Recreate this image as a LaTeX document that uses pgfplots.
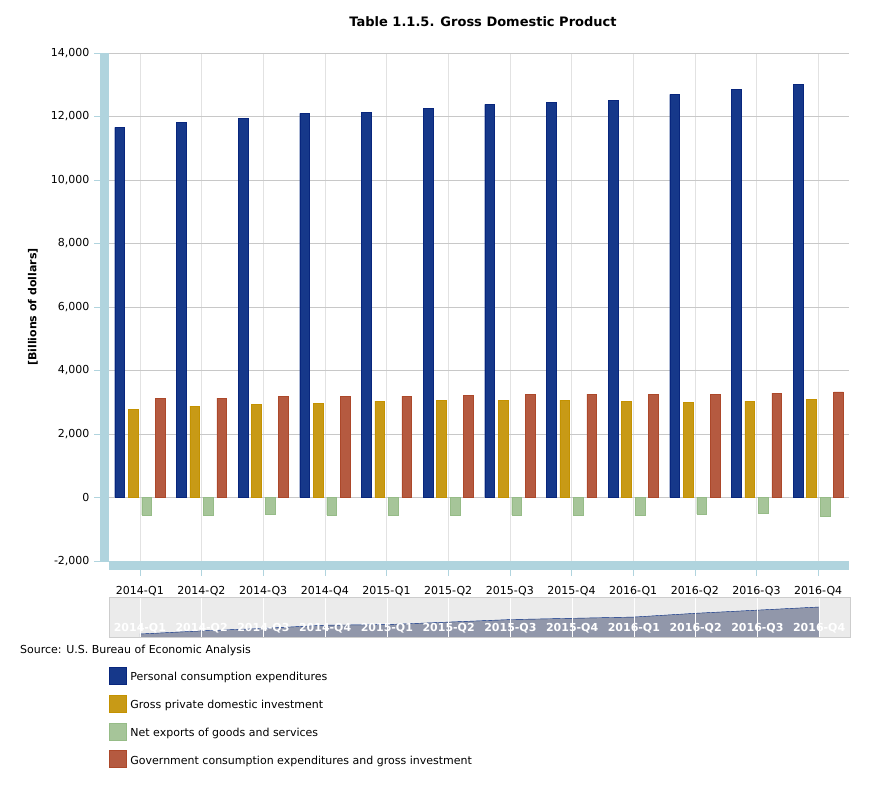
\documentclass[border=0pt]{standalone}
\usepackage{pgfplots}
\pgfplotsset{compat=1.18}
\usepackage{pgfplotstable}
\usepackage{fontspec}
\setmainfont{DejaVu Sans}

\definecolor{pcefill}{RGB}{22,56,138}
\definecolor{pceline}{RGB}{8,38,125}
\definecolor{gpdifill}{RGB}{200,154,22}
\definecolor{gpdiline}{RGB}{196,146,0}
\definecolor{nxfill}{RGB}{166,197,153}
\definecolor{nxline}{RGB}{150,188,135}
\definecolor{govfill}{RGB}{181,90,64}
\definecolor{govline}{RGB}{172,72,42}
\definecolor{bandblue}{RGB}{176,212,222}
\definecolor{gridh}{RGB}{200,200,200}
\definecolor{gridv}{RGB}{226,226,226}
\definecolor{zeroline}{RGB}{120,120,120}
\definecolor{navbg}{RGB}{235,235,235}
\definecolor{navborder}{RGB}{205,205,205}
\definecolor{navarea}{RGB}{145,151,170}
\definecolor{navline}{RGB}{0,40,130}

% billions of dollars
\pgfplotstableread{
x  pce   gpdi  nx    gov
0  11660 2785  -551  3133
1  11817 2880  -551  3133
2  11943 2943  -519  3196
3  12101 2975  -551  3196
4  12132 3038  -551  3196
5  12258 3070  -551  3228
6  12384 3070  -551  3259
7  12447 3070  -551  3259
8  12510 3038  -551  3259
9  12699 3006  -519  3259
10 12857 3038  -487  3291
11 13014 3101  -582  3323
}\gdp

\newcommand{\quarters}{2014-Q1,2014-Q2,2014-Q3,2014-Q4,2015-Q1,2015-Q2,2015-Q3,2015-Q4,2016-Q1,2016-Q2,2016-Q3,2016-Q4}
\newcommand{\sz}{\fontsize{11bp}{13bp}\selectfont}

\begin{document}
\begin{tikzpicture}
\useasboundingbox (0,0) rectangle (870bp,798bp);

\begin{axis}[
    at={(109bp,237bp)}, anchor=south west,
    scale only axis, width=740bp, height=508bp,
    xmin=-0.5, xmax=11.5, ymin=-2000, ymax=14000,
    xtick={0,...,11}, xticklabels/.expanded={\quarters},
    ytick={-2000,0,...,14000},
    scaled y ticks=false,
    ybar=3.8bp, bar width=9.7bp,
    axis line style={draw=none},
    tick pos=left, tick align=outside, major tick length=15bp,
    tick style={draw=bandblue},
    xmajorgrids, ymajorgrids,
    x grid style={draw=gridv},
    y grid style={draw=gridh},
    extra y ticks={0}, extra y tick labels={},
    extra y tick style={major tick length=0pt, grid style={draw=zeroline}},
    tick label style={font=\sz},
    /pgf/number format/.cd, 1000 sep={,}, assume math mode=true, /pgfplots/.cd,
    xticklabel style={anchor=center, yshift=-15bp},
    yticklabel style={anchor=east, xshift=-1bp},
    title={Table 1.1.5. Gross Domestic Product},
    title style={font=\fontsize{13bp}{15bp}\selectfont\bfseries, at={(axis description cs:0.5054,1.049)}, anchor=center},
    ylabel={[Billions of dollars]},
    ylabel style={font=\sz\bfseries, at={(axis description cs:-0.1027,0.5)}, anchor=center},
    legend style={at={(axis description cs:0,-0.2093)}, anchor=north west,
        draw=none, fill=none, inner sep=0pt, outer sep=0pt,
        row sep=10.3bp, column sep=4bp, font=\sz,
        nodes={inner sep=0pt}},
    legend cell align=left,
    legend image code/.code={\fill[#1] (0bp,-7bp) rectangle (17bp,10bp);},
]
\addplot[fill=pcefill, draw=pceline] table[x=x, y=pce] {\gdp};
\addplot[fill=gpdifill, draw=gpdiline] table[x=x, y=gpdi] {\gdp};
\addplot[fill=nxfill, draw=nxline] table[x=x, y=nx] {\gdp};
\addplot[fill=govfill, draw=govline] table[x=x, y=gov] {\gdp};
\legend{Personal consumption expenditures,
        Gross private domestic investment,
        Net exports of goods and services,
        Government consumption expenditures and gross investment}
\end{axis}

% left and bottom axis bands, over the inner part of the ticks
\fill[bandblue] (100bp,237bp) rectangle (109bp,745bp);
\fill[bandblue] (109bp,228bp) rectangle (849bp,237bp);

% navigator
\begin{axis}[
    at={(109bp,161bp)}, anchor=south west,
    scale only axis, width=741bp, height=40bp,
    xmin=-0.5, xmax=11.5, ymin=11510, ymax=13515,
    axis background/.style={fill=navbg},
    axis line style={draw=navborder},
    axis on top,
    ytick=\empty,
    xtick={0,...,11}, xticklabels/.expanded={\quarters},
    major tick length=0pt,
    xmajorgrids, grid style={draw=white},
    xticklabel style={font=\sz\bfseries, text=white, anchor=center, yshift=9bp},
]
\addplot[draw=none, fill=navarea] table[x=x, y=pce] {\gdp} \closedcycle;
\addplot[navline, no marks] table[x=x, y=pce] {\gdp};
\end{axis}

\node[anchor=west, font=\sz, inner sep=0pt] at (20bp,148bp) {Source: U.S. Bureau of Economic Analysis};
\end{tikzpicture}
\end{document}
